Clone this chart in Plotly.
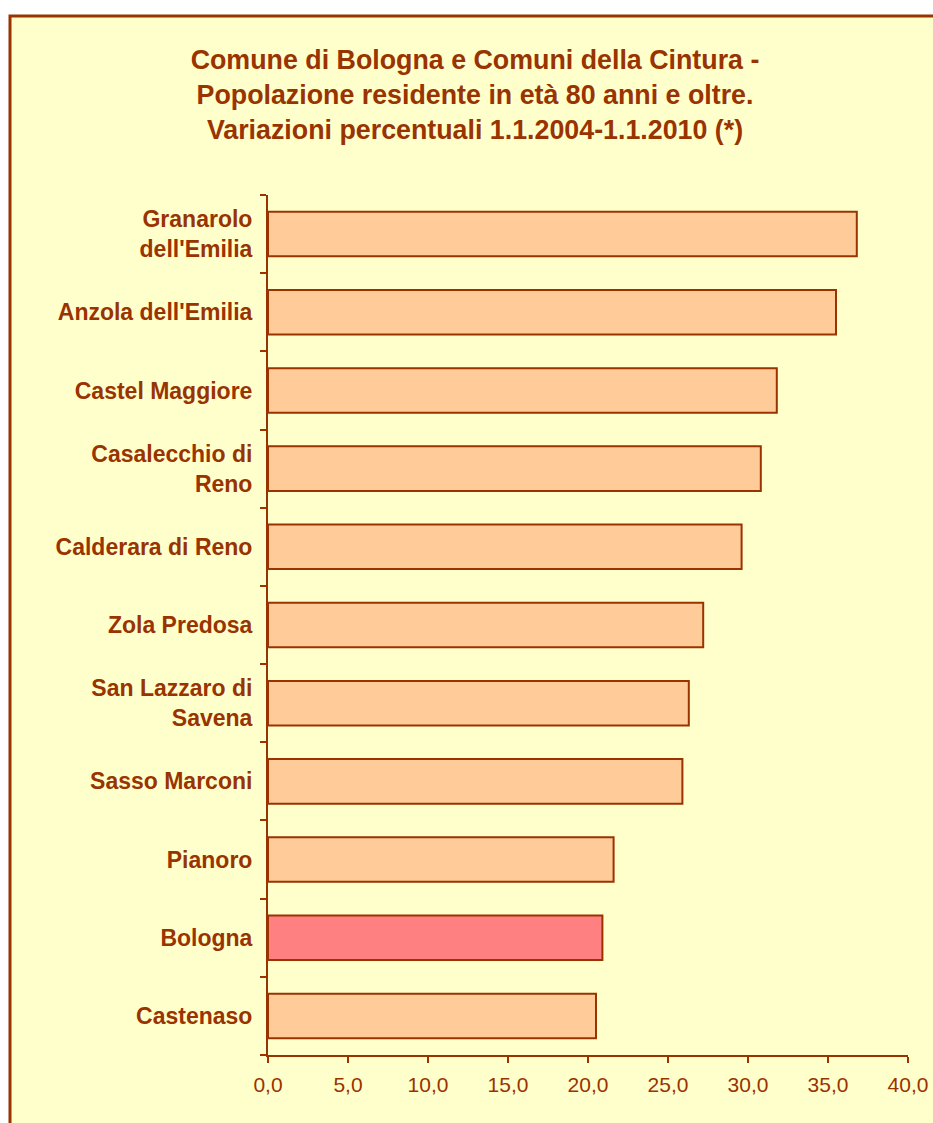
import plotly.graph_objects as go

categories = [
    "Granarolo<br>dell'Emilia",
    "Anzola dell'Emilia",
    "Castel Maggiore",
    "Casalecchio di<br>Reno",
    "Calderara di Reno",
    "Zola Predosa",
    "San Lazzaro di<br>Savena",
    "Sasso Marconi",
    "Pianoro",
    "Bologna",
    "Castenaso",
]
values = [36.8, 35.5, 31.8, 30.8, 29.6, 27.2, 26.3, 25.9, 21.6, 20.9, 20.5]
highlight = "Bologna"
x_ticks = [0, 5, 10, 15, 20, 25, 30, 35, 40]

BROWN = "#993300"
BG = "#FFFFCC"
BAR = "#FFCC99"
BAR_HI = "#FF8080"

colors = [BAR_HI if c == highlight else BAR for c in categories]

W, H = 933, 1123
ML, MT = 268, 195
PR, PB = 908, 1055
MR, MB = W - PR, H - PB
pw = W - ML - MR
ph = H - MT - MB

fig = go.Figure(
    go.Bar(
        y=categories,
        x=values,
        orientation="h",
        width=0.57,
        marker=dict(color=colors, line=dict(color=BROWN, width=2)),
        hoverinfo="x+y",
    )
)

fig.update_layout(
    width=W,
    height=H,
    margin=dict(l=ML, r=MR, t=MT, b=MB, pad=0, autoexpand=False),
    paper_bgcolor="white",
    plot_bgcolor=BG,
    separators=",.",
    showlegend=False,
    font=dict(family="Liberation Sans, Arial, sans-serif", color=BROWN),
    title=dict(
        text="<b>Comune di Bologna e Comuni della Cintura -<br>"
        "Popolazione residente in età 80 anni e oltre.<br>"
        "Variazioni percentuali 1.1.2004-1.1.2010 (*)</b>",
        x=(475 - ML) / pw,
        xanchor="center",
        xref="paper",
        yref="container",
        y=1 - 69 / H,
        yanchor="top",
        font=dict(size=26.8, color=BROWN, family="Liberation Sans, Arial, sans-serif"),
    ),
    shapes=[
        dict(
            type="rect",
            xref="paper",
            yref="paper",
            x0=(10 - ML) / pw,
            x1=(W + 30 - ML) / pw,
            y0=-(MB + 30) / ph,
            y1=(PB - 16) / ph,
            line=dict(color=BROWN, width=3),
            fillcolor=BG,
            layer="below",
        )
    ],
)

fig.update_xaxes(
    range=[0, 40],
    tickvals=x_ticks,
    tickformat=".1f",
    automargin=False,
    showgrid=False,
    zeroline=False,
    showline=True,
    linecolor=BROWN,
    linewidth=2,
    ticks="outside",
    ticklen=6,
    tickwidth=2,
    tickcolor=BROWN,
    tickfont=dict(size=21, color=BROWN),
    ticklabelstandoff=4,
    fixedrange=True,
)

fig.update_yaxes(
    type="category",
    categoryorder="array",
    categoryarray=categories,
    range=[len(categories) - 0.5, -0.5],
    automargin=False,
    showgrid=False,
    zeroline=False,
    showline=True,
    linecolor=BROWN,
    linewidth=2,
    ticks="outside",
    tickson="boundaries",
    ticklen=6,
    tickwidth=2,
    tickcolor=BROWN,
    tickfont=dict(size=23, color=BROWN),
    ticklabelstandoff=9,
    fixedrange=True,
    tickvals=categories,
    ticktext=["<b>" + c + "</b>" for c in categories],
)

fig.write_html(
    "out.html",
    config={"displayModeBar": False},
    post_script="document.body.style.margin='0';document.body.style.overflow='hidden';",
)
